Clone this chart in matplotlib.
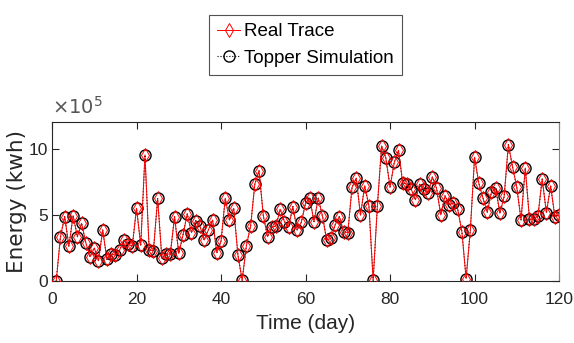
import matplotlib
matplotlib.use('Agg')
import matplotlib.pyplot as plt

# energia diaria, em unidades de 1e5 kwh
days = list(range(1, 121))
real_trace = [
    0.0, 3.34, 4.86, 2.63, 4.94, 3.34, 4.35, 2.89, 1.82, 2.50,
    1.52, 3.85, 1.62, 2.03, 1.95, 2.33, 3.09, 2.78, 2.63, 5.49,
    2.71, 9.52, 2.33, 2.28, 6.23, 1.70, 2.03, 2.03, 4.86, 2.08,
    3.47, 5.06, 3.65, 4.56, 4.15, 3.09, 3.85, 4.60, 2.13, 3.00,
    6.25, 4.60, 5.49, 1.95, 0.05, 2.66, 4.15, 7.32, 8.33, 4.94,
    3.34, 4.05, 4.15, 5.42, 4.48, 4.10, 5.62, 3.85, 4.43, 5.87,
    6.25, 4.48, 6.25, 4.91, 3.09, 3.22, 4.23, 4.86, 3.72, 3.65,
    7.06, 7.77, 4.96, 7.19, 5.67, 0.05, 5.67, 10.2, 9.29, 7.09,
    8.96, 9.87, 7.39, 7.32, 6.94, 6.13, 7.32, 6.94, 6.63, 7.85,
    7.01, 4.99, 6.43, 5.75, 5.92, 5.44, 3.72, 0.18, 3.85, 9.34,
    7.39, 6.25, 5.19, 6.71, 7.01, 5.11, 6.38, 10.3, 8.61, 7.06,
    4.61, 8.53, 4.66, 4.66, 4.91, 7.70, 5.16, 7.19, 4.86, 4.99,
]
topper_sim = list(real_trace)

fonte = ['Liberation Sans', 'DejaVu Sans']

fig = plt.figure(figsize=(5.74, 3.43), dpi=100)
ax = fig.add_axes([0.0906, 0.181, 0.8834, 0.463])

ax.plot(days, real_trace, color='red', linestyle='-', linewidth=0.7,
        marker='d', markersize=7, markerfacecolor='none', markeredgecolor='red',
        markeredgewidth=0.7, label='Real Trace', zorder=3)
ax.plot(days, topper_sim, color='black', linestyle=':', linewidth=0.8,
        marker='o', markersize=8, markerfacecolor='none', markeredgecolor='black',
        markeredgewidth=1.0, label='Topper Simulation', zorder=2)

ax.set_xlim(0, 120)
ax.set_ylim(0, 12)
ax.set_xticks([0, 20, 40, 60, 80, 100, 120])
ax.set_yticks([0, 5, 10])
ax.tick_params(direction='in', length=5, top=True, right=True,
               colors='#262626', labelsize=12.5)
ax.tick_params(axis='x', pad=8)
ax.tick_params(axis='y', pad=3)
for lab in ax.get_xticklabels() + ax.get_yticklabels():
    lab.set_family(fonte)
for s in ax.spines.values():
    s.set_color('#262626')
ax.spines['right'].set_color('#888888')

ax.text(0.0, 1.03, r'$\times10^5$', transform=ax.transAxes, fontsize=14,
        color='#555555', ha='left', va='bottom')

ax.set_xlabel('Time (day)', family=fonte, fontsize=15, color='#262626', labelpad=5)
ax.set_ylabel('Energy (kwh)', family='DejaVu Sans', fontsize=15.5, color='#262626',
              va='center')
ax.yaxis.set_label_coords(-0.07, 0.5)

leg = fig.legend(loc='center', bbox_to_anchor=(0.532, 0.869), bbox_transform=fig.transFigure,
                 prop={'family': fonte, 'size': 13.5}, fancybox=False, edgecolor='#262626',
                 handlelength=1.2, handletextpad=0.2, borderpad=0.45, labelspacing=0.5,
                 borderaxespad=0)
leg.get_frame().set_linewidth(0.8)

fig.savefig('out.png', dpi=100)
